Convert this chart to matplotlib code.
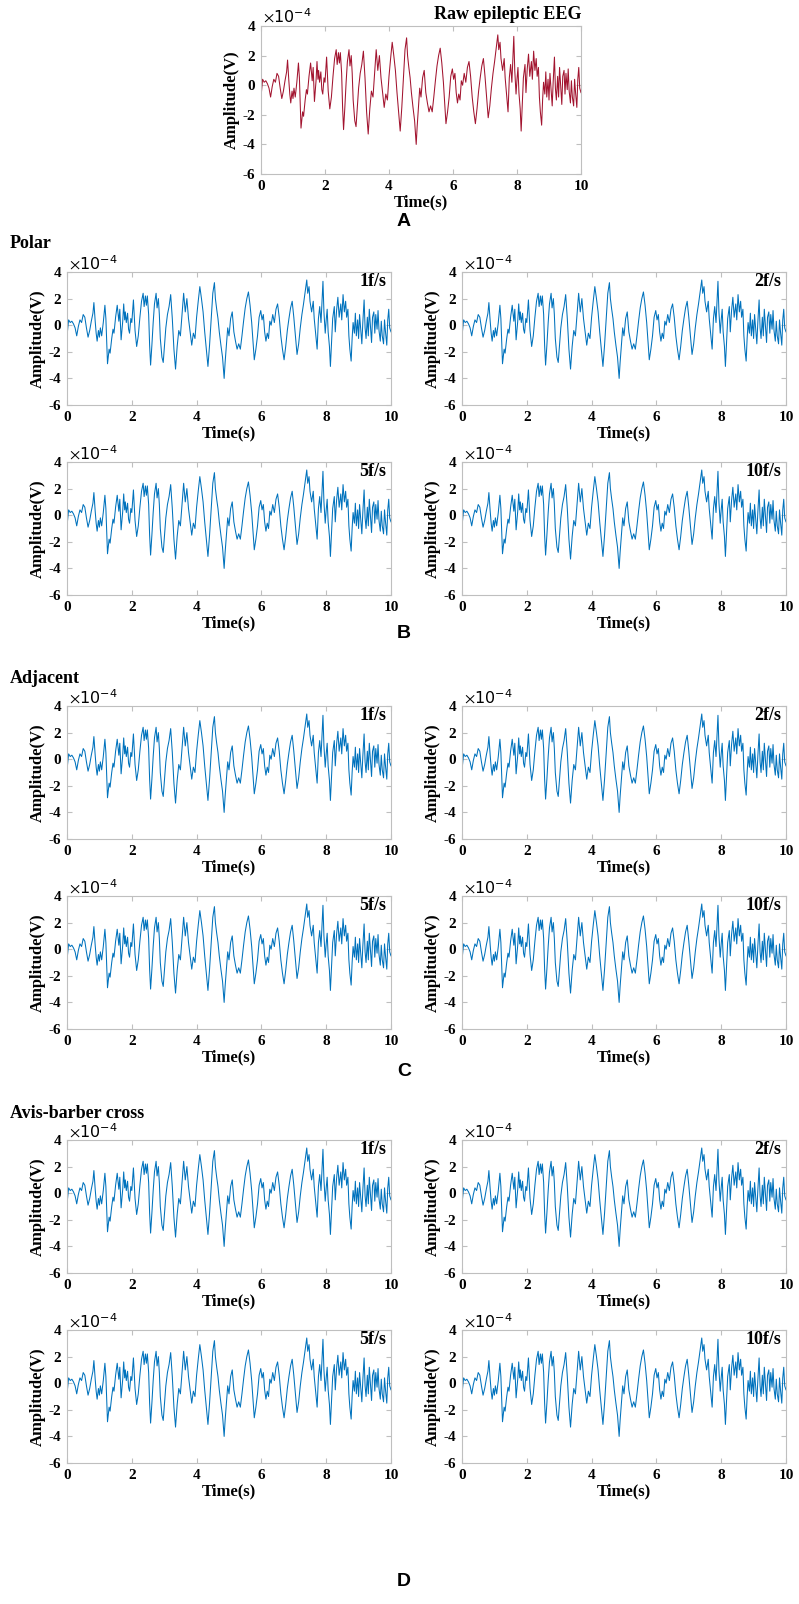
import matplotlib
matplotlib.use("Agg")
import matplotlib.pyplot as plt

plt.rcParams['axes.unicode_minus'] = False
plt.rcParams['mathtext.fontset'] = 'stix'

# EEG trace (time in s, amplitude in 1e-4 V)
t_pts = [0.00, 0.05, 0.10, 0.15, 0.20, 0.25, 0.30, 0.35, 0.40, 0.45, 0.50, 0.55, 0.60, 0.65,
         0.70, 0.75, 0.80, 0.83, 0.87, 0.90, 0.93, 0.97, 1.00, 1.03, 1.07, 1.12, 1.17, 1.20,
         1.23, 1.25, 1.30, 1.33, 1.38, 1.42, 1.45, 1.50, 1.55, 1.60, 1.63, 1.67, 1.72, 1.75,
         1.78, 1.80, 1.83, 1.87, 1.90, 1.93, 1.97, 2.00, 2.05, 2.10, 2.15, 2.20, 2.25, 2.30,
         2.35, 2.38, 2.42, 2.45, 2.48, 2.52, 2.55, 2.58, 2.62, 2.66, 2.70, 2.75, 2.78, 2.82,
         2.85, 2.88, 2.93, 2.97, 3.00, 3.05, 3.10, 3.15, 3.20, 3.25, 3.30, 3.35, 3.40, 3.45,
         3.50, 3.55, 3.60, 3.65, 3.70, 3.75, 3.80, 3.85, 3.90, 3.95, 4.00, 4.05, 4.10, 4.15,
         4.20, 4.25, 4.30, 4.35, 4.40, 4.45, 4.50, 4.55, 4.58, 4.62, 4.66, 4.70, 4.75, 4.80,
         4.85, 4.88, 4.92, 4.96, 5.00, 5.05, 5.10, 5.15, 5.20, 5.25, 5.30, 5.35, 5.40, 5.45,
         5.50, 5.55, 5.60, 5.65, 5.70, 5.75, 5.78, 5.83, 5.88, 5.93, 5.98, 6.02, 6.06, 6.10,
         6.14, 6.18, 6.22, 6.26, 6.30, 6.35, 6.40, 6.45, 6.50, 6.55, 6.60, 6.65, 6.70, 6.75,
         6.80, 6.85, 6.90, 6.95, 7.00, 7.05, 7.10, 7.15, 7.20, 7.25, 7.30, 7.35, 7.40, 7.43,
         7.47, 7.50, 7.55, 7.60, 7.63, 7.67, 7.72, 7.76, 7.80, 7.84, 7.87, 7.90, 7.93, 7.97,
         8.00, 8.03, 8.06, 8.10, 8.13, 8.17, 8.20, 8.25, 8.28, 8.32, 8.36, 8.40, 8.45, 8.48,
         8.52, 8.56, 8.60, 8.63, 8.67, 8.70, 8.73, 8.77, 8.80, 8.83, 8.87, 8.90, 8.93, 8.97,
         9.00, 9.03, 9.07, 9.10, 9.13, 9.17, 9.20, 9.23, 9.27, 9.30, 9.33, 9.37, 9.40, 9.43,
         9.47, 9.50, 9.53, 9.57, 9.60, 9.63, 9.67, 9.70, 9.73, 9.77, 9.80, 9.83, 9.87, 9.90,
         9.93, 9.96, 10.00]
v_pts = [-0.8, 0.4, 0.2, 0.3, 0.1, -0.2, -0.8, -0.1, 0.4, 0.2, 0.8, 0.6, -0.2, -0.9,
         -0.4, 0.3, 0.9, 1.7, 0.3, -0.6, -1.2, -0.4, -0.9, -0.2, -0.8, 0.2, 1.5, 0.5,
         -1.5, -2.9, -1.8, -2.1, -1.0, -0.3, -0.6, 0.6, 1.5, 0.3, 1.2, -1.1, 0.3, 1.6,
         0.4, 1.0, 0.2, 0.9, -0.3, -0.6, 0.5, 0.2, 1.9, -0.4, -1.6, -0.8, 0.6, 1.8,
         2.4, 1.4, 2.2, 1.5, 2.2, 0.8, -1.5, -3.0, -1.5, 0.2, 1.6, 2.4, 1.3, 2.0,
         0.8, -1.0, -2.4, -2.8, -1.8, -0.2, 0.8, 1.4, 2.3, 0.5, -1.8, -3.3, -1.6, -0.4,
         -0.8, 0.8, 2.4, 1.0, 2.0, 0.5, -0.5, -1.5, -0.6, -1.0, 0.6, 1.8, 2.9, 2.0,
         1.0, -0.5, -1.8, -3.1, -1.5, 0.5, 2.4, 3.2, 2.0, 1.2, 0.5, -0.5, -1.5, -2.4,
         -4.0, -2.8, -1.5, -0.2, -0.8, 0.5, 1.0, -0.5, -1.2, -1.8, -1.4, -1.8, -0.8, 0.3,
         1.3, 2.0, 2.5, 1.5, 0.2, -1.5, -2.6, -1.8, -0.8, 0.6, 1.1, 0.4, 0.8, -0.5,
         -1.2, -0.6, -1.0, 0.3, 0.0, 0.8, 0.2, 1.2, 1.6, 0.6, -0.8, -1.8, -2.6, -1.6,
         -0.4, 0.5, 1.3, 1.8, 0.6, -0.8, -2.2, -1.4, -0.2, 0.8, 1.6, 2.5, 3.4, 2.4,
         2.9, 1.8, 1.0, 1.8, 0.5, -0.5, -1.8, 0.5, 1.4, 0.2, 1.8, 3.3, 1.0, -0.6,
         0.4, 1.2, -0.5, -1.6, -3.1, -1.0, 0.5, 1.4, -0.5, 1.1, 2.1, 0.6, 1.6, 0.4,
         2.3, 1.0, 1.8, 0.6, 1.2, -0.8, -1.8, -2.7, -1.0, 0.2, -0.6, 0.9, -0.8, 0.4,
         -1.0, 0.8, -0.4, -1.4, 0.2, 1.9, -0.2, -1.0, 0.6, -0.8, 1.2, -0.2, -1.3, 0.6,
         1.0, -0.6, 0.8, -0.3, 1.1, -0.4, -1.2, 0.3, -0.8, -1.4, 0.4, -0.5, -1.5, 0.4,
         1.2, -0.2, -0.5]

sections = ["Polar", "Adjacent", "Avis-barber cross"]
panel_letters = ["A", "B", "C", "D"]
rates = ["1f/s", "2f/s", "5f/s", "10f/s"]

W, H = 799, 1604
serif = 'Liberation Serif'
grey = '#BFBFBF'


def make_axes(x0, y0, w=324, h=133):
    return fig.add_axes([x0 / W, 1 - (y0 + h) / H, w / W, h / H])


def style(ax, color, tag, tag_above=False):
    ax.plot(t_pts, v_pts, color=color, lw=0.75)
    ax.set_xlim(0, 10)
    ax.set_ylim(-6, 4)
    ax.set_xticks(range(0, 11, 2))
    ax.set_yticks(range(-6, 5, 2))
    for s in ax.spines.values():
        s.set_color(grey)
        s.set_linewidth(0.8)
    ax.tick_params(direction='in', length=3.5, color=grey, top=True, right=True, pad=4,
                   labelsize=11)
    for lab in ax.get_xticklabels() + ax.get_yticklabels():
        lab.set_fontfamily(serif)
        lab.set_fontweight('bold')
    ax.set_xlabel('Time(s)', fontfamily=serif, fontweight='bold', fontsize=12, labelpad=1)
    ax.set_ylabel('Amplitude(V)', fontfamily=serif, fontweight='bold', fontsize=12)
    ax.yaxis.set_label_coords(-0.066, 0.5)
    ax.text(0.005, 1.065, r'$\times\mathregular{10^{-4}}$', transform=ax.transAxes,
            fontsize=11.5, ha='left', va='center')
    if tag_above:
        ax.text(1.0, 1.08, tag, transform=ax.transAxes, ha='right', va='center',
                fontfamily=serif, fontweight='bold', fontsize=13)
    else:
        ax.text(0.985, 0.925, tag, transform=ax.transAxes, ha='right', va='center',
                fontfamily=serif, fontweight='bold', fontsize=13)


fig = plt.figure(figsize=(W / 100, H / 100), dpi=100)

ax = make_axes(261, 26, w=320, h=148)
style(ax, '#A2142F', 'Raw epileptic EEG', tag_above=True)

row_tops = [(272, 462), (706, 896), (1140, 1330)]
head_y = [243, 678, 1113]
letter_y = [221, 634, 1072, 1581]

for k, name in enumerate(sections):
    fig.text(10 / W, 1 - head_y[k] / H, name, fontfamily=serif, fontweight='bold',
             fontsize=13, ha='left', va='center')
    for r, top in enumerate(row_tops[k]):
        for c, left in enumerate([67, 462]):
            a = make_axes(left, top)
            style(a, '#0072BD', rates[2 * r + c])

for k, letter in enumerate(panel_letters):
    fig.text(404 / W, 1 - letter_y[k] / H, letter, fontfamily='Liberation Sans',
             fontweight='bold', fontsize=14, ha='center', va='center')

fig.savefig('out.png', dpi=100)
